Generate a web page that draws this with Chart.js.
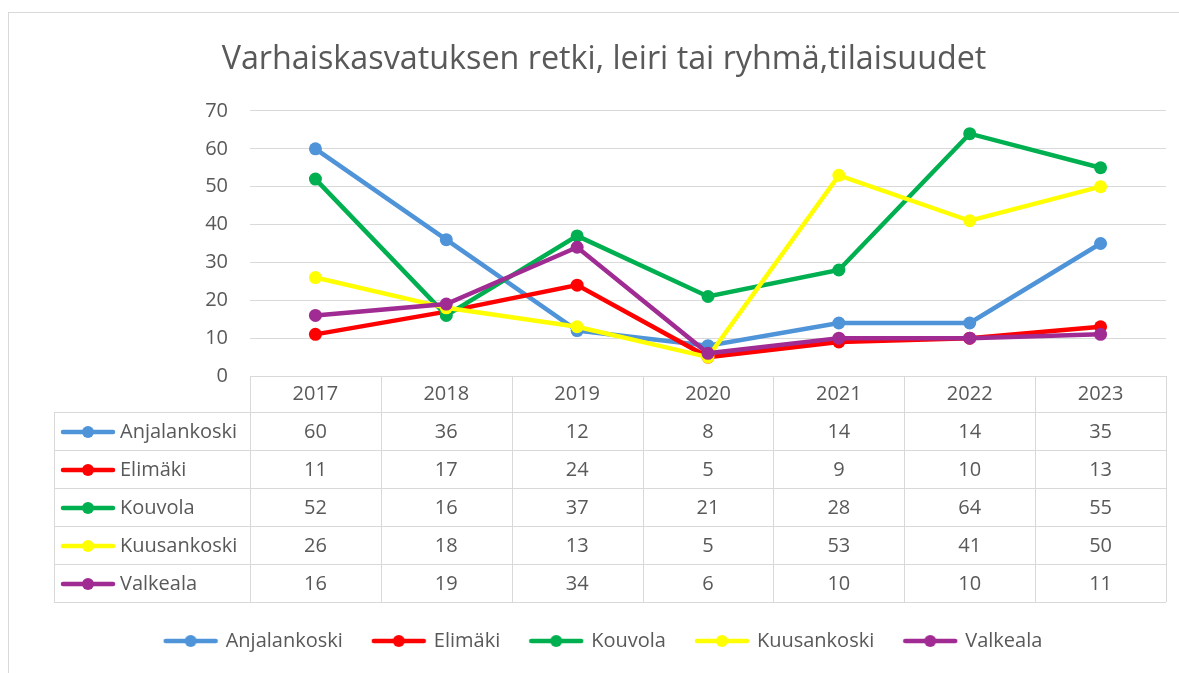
<!DOCTYPE html>
<html>
<head>
<meta charset="utf-8">
<script src="https://cdn.jsdelivr.net/npm/chart.js@4"></script>
<style>
  html, body { margin: 0; padding: 0; background: #fff; }
  #wrap { width: 1179px; height: 673px; }
</style>
</head>
<body>
<div id="wrap"><canvas id="chart" width="1179" height="673"></canvas></div>
<script>
const years = ["2017", "2018", "2019", "2020", "2021", "2022", "2023"];
const seriesNames = ["Anjalankoski", "Elimäki", "Kouvola", "Kuusankoski", "Valkeala"];
const anjalankoski = [60, 36, 12, 8, 14, 14, 35];
const elimaki = [11, 17, 24, 5, 9, 10, 13];
const kouvola = [52, 16, 37, 21, 28, 64, 55];
const kuusankoski = [26, 18, 13, 5, 53, 41, 50];
const valkeala = [16, 19, 34, 6, 10, 10, 11];
const seriesColors = ["#4f94d8", "#ff0000", "#00b050", "#ffff00", "#a02b93"];

const allValues = [anjalankoski, elimaki, kouvola, kuusankoski, valkeala];
const FONT = "'Open Sans', sans-serif";
const TEXT = "#595959";
const GRID = "#d9d9d9";

function makeMarker(color) {
  const c = document.createElement("canvas");
  c.width = 56;
  c.height = 14;
  const g = c.getContext("2d");
  g.strokeStyle = color;
  g.lineWidth = 4.5;
  g.lineCap = "round";
  g.beginPath();
  g.moveTo(3, 7);
  g.lineTo(53, 7);
  g.stroke();
  g.fillStyle = color;
  g.beginPath();
  g.arc(28, 7, 6, 0, Math.PI * 2);
  g.fill();
  return c;
}
const markers = seriesColors.map(makeMarker);

const frameAndTable = {
  id: "frameAndTable",
  beforeDraw(chart) {
    const ctx = chart.ctx;
    ctx.save();
    ctx.fillStyle = "#fff";
    ctx.fillRect(0, 0, chart.width, chart.height);
    ctx.strokeStyle = GRID;
    ctx.lineWidth = 1;
    ctx.strokeRect(8.5, 12.5, chart.width + 10, chart.height + 10);
    ctx.restore();
  },
  afterDraw(chart) {
    const ctx = chart.ctx;
    const x = chart.scales.x;
    const area = chart.chartArea;
    const colW = x.getPixelForValue(1) - x.getPixelForValue(0);
    const left = area.left;
    const right = area.right;
    const labelLeft = 54;
    const top = area.bottom;
    const headH = 36;
    const rowH = 38;
    const bodyTop = top + headH;
    const bottom = bodyTop + rowH * seriesNames.length;

    ctx.save();
    ctx.strokeStyle = GRID;
    ctx.lineWidth = 1;
    ctx.beginPath();
    ctx.moveTo(left, top + 0.5);
    ctx.lineTo(right, top + 0.5);
    for (let i = 0; i <= years.length; i++) {
      const px = Math.round(left + i * colW) + 0.5;
      ctx.moveTo(px, top);
      ctx.lineTo(px, bottom);
    }
    ctx.moveTo(labelLeft + 0.5, bodyTop);
    ctx.lineTo(labelLeft + 0.5, bottom);
    for (let r = 0; r <= seriesNames.length; r++) {
      const py = Math.round(bodyTop + r * rowH) + 0.5;
      ctx.moveTo(labelLeft, py);
      ctx.lineTo(right, py);
    }
    ctx.stroke();

    ctx.font = "20px " + FONT;
    ctx.fillStyle = TEXT;
    ctx.textBaseline = "middle";
    seriesNames.forEach((name, r) => {
      const cy = bodyTop + r * rowH + rowH / 2 + 1;
      ctx.drawImage(markers[r], 60, cy - 7);
      ctx.textAlign = "left";
      ctx.fillText(name, 120, cy);
      ctx.textAlign = "center";
      allValues[r].forEach((v, i) => {
        ctx.fillText(String(v), x.getPixelForValue(i), cy);
      });
    });
    ctx.restore();
  },
};

const datasets = seriesNames.map((name, i) => ({
  label: name,
  data: allValues[i],
  borderColor: seriesColors[i],
  backgroundColor: seriesColors[i],
  borderWidth: 4.5,
  pointRadius: 6.5,
  pointHoverRadius: 6.5,
  pointBorderWidth: 0,
  tension: 0,
  order: seriesNames.length - i,
}));

new Chart(document.getElementById("chart"), {
  type: "line",
  data: { labels: years, datasets },
  plugins: [frameAndTable],
  options: {
    responsive: false,
    animation: false,
    layout: { padding: { left: 42, right: 13, top: 20, bottom: 12 } },
    plugins: {
      title: {
        display: true,
        text: "Varhaiskasvatuksen retki, leiri tai ryhmä,tilaisuudet",
        color: TEXT,
        font: { family: FONT, size: 32.3, weight: "normal" },
        padding: { top: 20, bottom: 32.2 },
      },
      legend: {
        position: "bottom",
        labels: {
          usePointStyle: true,
          pointStyleWidth: 50,
          padding: 31,
          color: TEXT,
          font: { family: FONT, size: 20 },
          generateLabels: () =>
            seriesNames.map((name, i) => ({
              text: name,
              pointStyle: markers[i],
              fillStyle: seriesColors[i],
              strokeStyle: seriesColors[i],
              fontColor: TEXT,
              lineWidth: 0,
              hidden: false,
              datasetIndex: i,
            })),
        },
      },
      tooltip: { enabled: false },
    },
    scales: {
      x: {
        offset: true,
        grid: { display: false, drawTicks: false },
        border: { display: false },
        ticks: { color: TEXT, font: { family: FONT, size: 20 }, padding: 6 },
        afterFit: (scale) => { scale.height = 224; },
      },
      y: {
        min: 0,
        max: 70,
        ticks: { stepSize: 10, color: TEXT, font: { family: FONT, size: 20 }, padding: 22 },
        grid: { color: GRID, lineWidth: 1, drawTicks: false },
        border: { display: false },
        afterFit: (scale) => { scale.width = 208; },
      },
    },
  },
});
</script>
</body>
</html>
